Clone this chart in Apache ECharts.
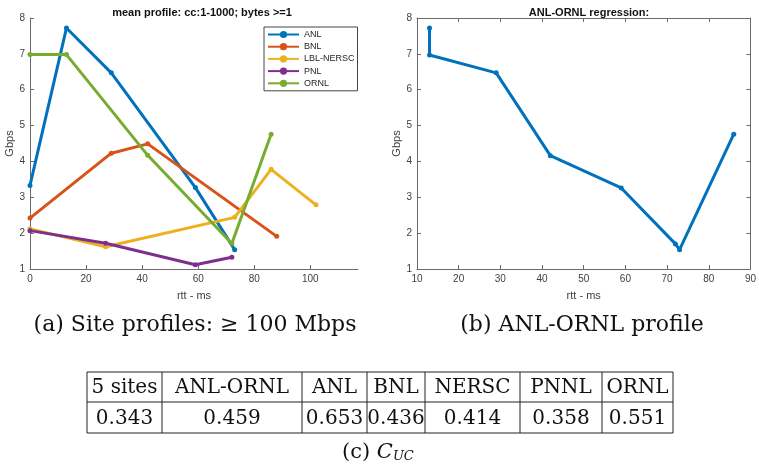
<!DOCTYPE html>
<html>
<head>
<meta charset="utf-8">
<script src="https://cdn.jsdelivr.net/npm/echarts@6/dist/echarts.min.js"></script>
<style>
    html, body {margin: 0; padding: 0; background: #fff;}
    #chart {width: 759px; height: 471px;}
</style>
</head>
<body>
<div id="chart"></div>
<script>
// (a) site profiles: rtt (ms) / Gbps
var siteNames = ['ANL', 'BNL', 'LBL-NERSC', 'PNL', 'ORNL'];
var siteColors = ['#0072BD', '#D95319', '#EDB120', '#7E2F8E', '#77AC30'];
var anlRtt = [0, 13, 29, 59, 73];
var anlGbps = [3.33, 7.72, 6.47, 3.27, 1.54];
var bnlRtt = [0, 29, 42, 88];
var bnlGbps = [2.42, 4.23, 4.49, 1.91];
var nerscRtt = [0, 27, 73, 86, 102];
var nerscGbps = [2.12, 1.62, 2.44, 3.78, 2.79];
var pnlRtt = [0, 27, 59, 72];
var pnlGbps = [2.07, 1.72, 1.12, 1.33];
var ornlRtt = [0, 13, 42, 72, 86];
var ornlGbps = [6.98, 6.98, 4.17, 1.71, 4.76];

// (b) ANL-ORNL regression
var regRtt = [13, 13, 29, 42, 59, 72, 73, 86];
var regGbps = [7.72, 6.97, 6.47, 4.16, 3.26, 1.70, 1.54, 4.76];

// (c) C_UC table
var tableHead = ['5 sites', 'ANL-ORNL', 'ANL', 'BNL', 'NERSC', 'PNNL', 'ORNL'];
var tableVals = ['0.343', '0.459', '0.653', '0.436', '0.414', '0.358', '0.551'];

// layout of the table (pixel edges)
var colEdges = [87, 162, 302, 367, 425, 520, 602, 673];
var rowEdges = [372, 402, 433];

var sans = 'Liberation Sans';
var serif = 'DejaVu Serif';
var axisColor = '#6b6b6b';
var labelColor = '#404040';

var zip = function (xs, ys) {
    return xs.map(function (x, i) {
        return [x, ys[i]];
    });
};

var axisBase = function (extra) {
    var ax = {
        type: 'value',
        axisLine: {show: true, onZero: false, lineStyle: {color: axisColor, width: 1}},
        axisTick: {show: true, inside: true, length: 4, lineStyle: {color: axisColor}},
        axisLabel: {color: labelColor, fontSize: 10, fontFamily: sans, margin: 5},
        splitLine: {show: false},
        nameTextStyle: {color: labelColor, fontSize: 11, fontFamily: sans}
    };
    return Object.assign(ax, extra);
};

var lineSeries = function (name, color, data, idx) {
    return {
        name: name,
        type: 'line',
        xAxisIndex: idx,
        yAxisIndex: idx,
        data: data,
        symbol: 'circle',
        symbolSize: 5,
        showSymbol: true,
        lineStyle: {width: 3, color: color},
        itemStyle: {color: color},
        emphasis: {disabled: true}
    };
};

var siteData = [
    zip(anlRtt, anlGbps),
    zip(bnlRtt, bnlGbps),
    zip(nerscRtt, nerscGbps),
    zip(pnlRtt, pnlGbps),
    zip(ornlRtt, ornlGbps)
];

var series = siteNames.map(function (n, i) {
    return lineSeries(n, siteColors[i], siteData[i], 0);
});
series.push(lineSeries('ANL-ORNL', '#0072BD', zip(regRtt, regGbps), 1));

// table + captions as graphic elements
var graphics = [];
rowEdges.forEach(function (y) {
    graphics.push({type: 'line', shape: {x1: colEdges[0], y1: y, x2: colEdges[colEdges.length - 1], y2: y},
        style: {stroke: '#222', lineWidth: 1}});
});
colEdges.forEach(function (x) {
    graphics.push({type: 'line', shape: {x1: x, y1: rowEdges[0], x2: x, y2: rowEdges[2]},
        style: {stroke: '#222', lineWidth: 1}});
});
[tableHead, tableVals].forEach(function (row, r) {
    row.forEach(function (txt, c) {
        graphics.push({
            type: 'text',
            x: (colEdges[c] + colEdges[c + 1]) / 2,
            y: (rowEdges[r] + rowEdges[r + 1]) / 2 + 1,
            style: {text: txt, fontFamily: serif, fontSize: 20, fill: '#111', align: 'center', verticalAlign: 'middle'}
        });
    });
});
graphics.push({
    type: 'text', x: 195, y: 325,
    style: {text: '(a) Site profiles: \u2265 100 Mbps', fontFamily: serif, fontSize: 22, fill: '#111', align: 'center', verticalAlign: 'middle'}
});
graphics.push({
    type: 'text', x: 582, y: 325,
    style: {text: '(b) ANL-ORNL profile', fontFamily: serif, fontSize: 22, fill: '#111', align: 'center', verticalAlign: 'middle'}
});
graphics.push({
    type: 'text', x: 342, y: 453,
    style: {
        text: '(c) {cal|C}{sub|UC}',
        fontFamily: serif, fontSize: 21, fill: '#111', align: 'left', verticalAlign: 'middle',
        rich: {
            cal: {fontFamily: serif, fontStyle: 'italic', fontSize: 21, fill: '#111'},
            sub: {fontFamily: serif, fontStyle: 'italic', fontSize: 13, fill: '#111', padding: [8, 0, 0, 0]}
        }
    }
});

var chart = echarts.init(document.getElementById('chart'), null, {renderer: 'canvas'});
chart.setOption({
    animation: false,
    backgroundColor: '#fff',
    title: [
        {text: 'mean profile: cc:1-1000; bytes >=1', left: 197, top: 2, textAlign: 'center',
            textStyle: {fontSize: 11, fontWeight: 'bold', fontFamily: sans, color: '#111'}},
        {text: 'ANL-ORNL regression:', left: 584, top: 2, textAlign: 'center',
            textStyle: {fontSize: 11, fontWeight: 'bold', fontFamily: sans, color: '#111'}}
    ],
    legend: {
        data: siteNames,
        orient: 'vertical',
        left: 264,
        top: 27,
        padding: [3, 3, 3, 3],
        itemWidth: 31,
        itemHeight: 9,
        itemGap: 3.2,
        borderColor: '#444',
        borderWidth: 1,
        backgroundColor: '#fff',
        textStyle: {fontSize: 9, fontFamily: sans, color: '#262626', lineHeight: 9}
    },
    grid: [
        {left: 30, top: 18, width: 328, height: 251},
        {left: 417, top: 18, width: 334, height: 251}
    ],
    xAxis: [
        axisBase({gridIndex: 0, min: 0, max: 117, interval: 20, name: 'rtt - ms', nameLocation: 'middle', nameGap: 21,
            axisLabel: {color: labelColor, fontSize: 10, fontFamily: sans, showMaxLabel: false, margin: 5}}),
        axisBase({gridIndex: 1, min: 10, max: 90, interval: 10, name: 'rtt - ms', nameLocation: 'middle', nameGap: 21}),
        axisBase({gridIndex: 1, min: 10, max: 90, interval: 10, position: 'top', axisLabel: {show: false}})
    ],
    yAxis: [
        axisBase({gridIndex: 0, min: 1, max: 8, interval: 1, name: 'Gbps', nameLocation: 'middle', nameGap: 14}),
        axisBase({gridIndex: 1, min: 1, max: 8, interval: 1, name: 'Gbps', nameLocation: 'middle', nameGap: 15}),
        axisBase({gridIndex: 1, min: 1, max: 8, interval: 1, position: 'right', axisLabel: {show: false}})
    ],
    series: series,
    graphic: graphics
});
</script>
</body>
</html>
